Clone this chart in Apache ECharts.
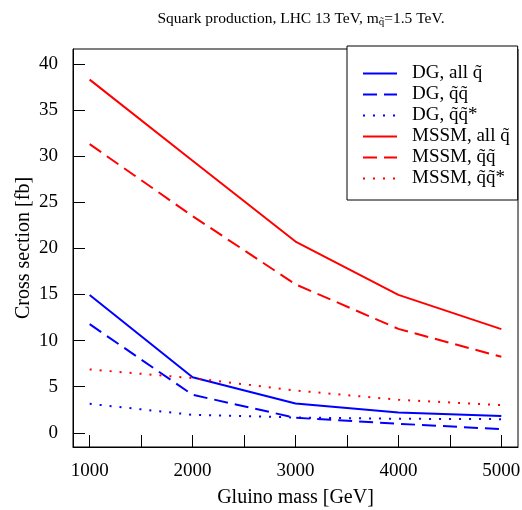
<!DOCTYPE html>
<html>
<head>
<meta charset="utf-8">
<script src="https://cdn.jsdelivr.net/npm/echarts@6/dist/echarts.min.js"></script>
<style>html,body{margin:0;padding:0;background:#fff}#c{width:522px;height:510px}</style>
</head>
<body>
<div id="c"></div>
<script>
const gluinoMass = [1000, 2000, 3000, 4000, 5000];
const dgAll = [14.95, 6.03, 3.18, 2.2, 1.81];
const dgSqSq = [11.78, 4.12, 1.63, 0.98, 0.4];
const dgSqAnti = [3.14, 1.95, 1.66, 1.52, 1.48];
const mssmAll = [38.3, 29.5, 20.74, 14.96, 11.24];
const mssmSqSq = [31.3, 23.5, 16.1, 11.27, 8.24];
const mssmSqAnti = [6.87, 5.93, 4.59, 3.58, 3.0];
const xTickLabels = [1000, 2000, 3000, 4000, 5000];
const xTicks = [1000, 1500, 2000, 2500, 3000, 3500, 4000, 4500, 5000];
const yTickLabels = [0, 5, 10, 15, 20, 25, 30, 35, 40];
const seriesNames = ['DG, all q̃', 'DG, q̃q̃', 'DG, q̃q̃*', 'MSSM, all q̃', 'MSSM, q̃q̃', 'MSSM, q̃q̃*'];

const FONT = '"Liberation Serif", "DejaVu Serif", serif';
const FS = 19;
const BLUE = '#0000ff', RED = '#ff0000';
const DASH = [14, 7], DOT = [2, 8];

function mk(name, data, color, type) {
  return {
    name, type: 'line', symbol: 'none', animation: false,
    data: gluinoMass.map((x, i) => [x, data[i]]),
    lineStyle: { color, width: 2, type },
    itemStyle: { color }
  };
}

const chart = echarts.init(document.getElementById('c'), null, { renderer: 'canvas' });
chart.setOption({
  animation: false,
  backgroundColor: '#fff',
  textStyle: { fontFamily: FONT },
  title: {
    text: 'Squark production, LHC 13 TeV, m{s|q̃}=1.5 TeV.',
    left: 296, top: 4, textAlign: 'center',
    textStyle: {
      fontFamily: FONT, fontSize: 15.5, fontWeight: 'normal', color: '#000',
      rich: { s: { fontFamily: FONT, fontSize: 11, verticalAlign: 'bottom', padding: [8, 0, 0, 0], color: '#000' } }
    }
  },
  grid: {
    left: 73, right: 4, top: 49, bottom: 63,
    show: true, borderColor: '#000', borderWidth: 1,
    containLabel: false, outerBoundsMode: 'none'
  },
  legend: {
    orient: 'vertical', left: 347, top: 46,
    backgroundColor: '#fff', borderColor: '#000', borderWidth: 1,
    padding: [18, 8, 12, 15], itemGap: 2, itemWidth: 34, itemHeight: 15,
    textStyle: { fontFamily: FONT, fontSize: FS, color: '#000', padding: [0, 0, 0, 10] },
    itemStyle: { opacity: 0 },
    data: seriesNames
  },
  xAxis: {
    type: 'value', min: 838, max: 5162,
    name: 'Gluino mass [GeV]', nameLocation: 'middle', nameGap: 41, nameMoveOverlap: false,
    nameTextStyle: { fontFamily: FONT, fontSize: 20, color: '#000' },
    axisLine: { show: true, onZero: false, lineStyle: { color: '#000', width: 1 } },
    axisTick: { show: true, inside: true, length: 12, customValues: xTicks, lineStyle: { color: '#000' } },
    axisLabel: { customValues: xTickLabels, margin: 15, fontFamily: FONT, fontSize: FS, color: '#000', formatter: v => String(v) },
    splitLine: { show: false }
  },
  yAxis: {
    type: 'value', min: -1.54, max: 41.62,
    name: 'Cross section [fb]', nameLocation: 'middle', nameGap: 39, nameRotate: 90, nameMoveOverlap: false,
    nameTextStyle: { fontFamily: FONT, fontSize: 20, color: '#000' },
    axisLine: { show: true, onZero: false, lineStyle: { color: '#000', width: 1 } },
    axisTick: { show: true, inside: true, length: 12, customValues: yTickLabels, lineStyle: { color: '#000' } },
    axisLabel: { customValues: yTickLabels, margin: 15, fontFamily: FONT, fontSize: FS, color: '#000', formatter: v => String(v) },
    splitLine: { show: false }
  },
  series: [
    mk(seriesNames[0], dgAll, BLUE, 'solid'),
    mk(seriesNames[1], dgSqSq, BLUE, DASH),
    mk(seriesNames[2], dgSqAnti, BLUE, DOT),
    mk(seriesNames[3], mssmAll, RED, 'solid'),
    mk(seriesNames[4], mssmSqSq, RED, DASH),
    mk(seriesNames[5], mssmSqAnti, RED, DOT)
  ]
});
</script>
</body>
</html>
